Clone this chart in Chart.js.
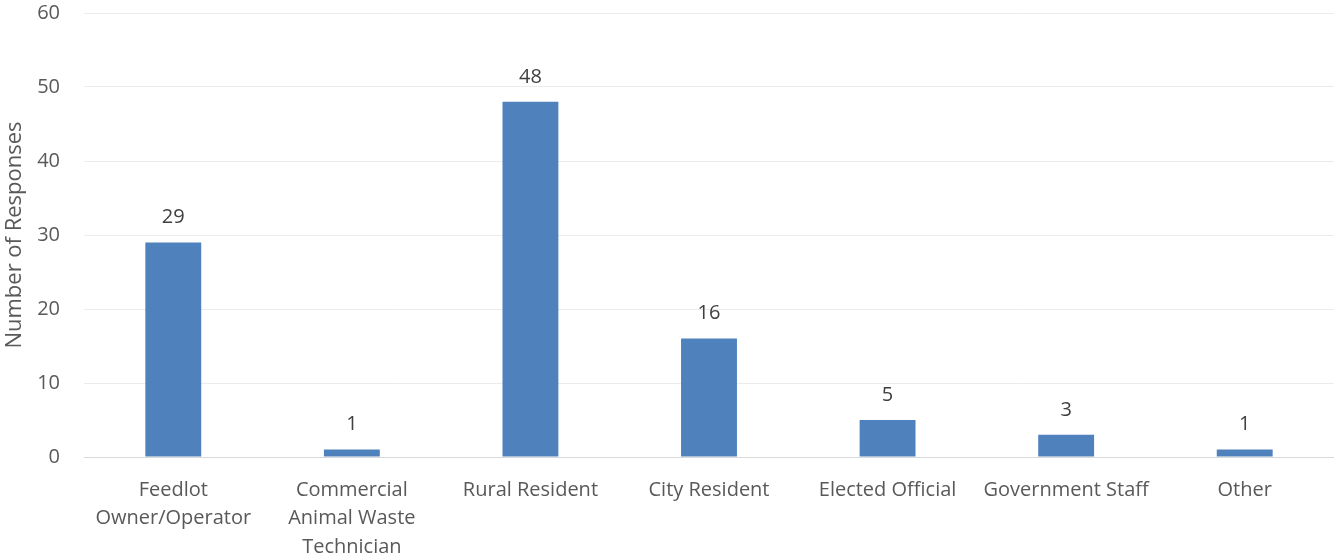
<!DOCTYPE html>
<html>
<head>
<meta charset="utf-8">
<script src="https://cdn.jsdelivr.net/npm/chart.js@4"></script>
<style>
  html, body { margin: 0; padding: 0; background: #fff; }
  #wrap { width: 1334px; height: 558px; }
</style>
</head>
<body>
<div id="wrap"><canvas id="canvas"></canvas></div>
<script>
const categories = [
    ['Feedlot', 'Owner/Operator'],
    ['Commercial', 'Animal Waste', 'Technician'],
    'Rural Resident',
    'City Resident',
    'Elected Official',
    'Government Staff',
    'Other'
];
const responses = [29, 1, 48, 16, 5, 3, 1];
const yTicks = [0, 10, 20, 30, 40, 50, 60];

const textColor = '#595959';
const fontFamily = '"Open Sans", sans-serif';

// draws the number above each bar
const valueLabels = {
    id: 'valueLabels',
    afterDatasetsDraw(chart) {
        const ctx = chart.ctx;
        const meta = chart.getDatasetMeta(0);
        ctx.save();
        ctx.fillStyle = '#404040';
        ctx.font = '20px ' + fontFamily;
        ctx.textAlign = 'center';
        ctx.textBaseline = 'middle';
        meta.data.forEach((bar, i) => {
            ctx.fillText(String(responses[i]), bar.x, bar.y - 25);
        });
        ctx.restore();
    }
};

const canvas = document.getElementById('canvas');
const chart = new Chart(canvas, {
    type: 'bar',
    data: {
        labels: categories,
        datasets: [{
            label: 'Number of Responses',
            data: responses,
            backgroundColor: '#4F81BD',
            barPercentage: 0.313,
            categoryPercentage: 1
        }]
    },
    options: {
        responsive: true,
        maintainAspectRatio: false,
        animation: false,
        layout: { padding: { top: 13, right: 0, bottom: 0, left: 0 } },
        plugins: {
            legend: { display: false },
            tooltip: { enabled: false }
        },
        scales: {
            x: {
                grid: { display: false, drawTicks: false },
                border: { color: '#D9D9D9', width: 1 },
                ticks: {
                    color: textColor,
                    font: { family: fontFamily, size: 20, lineHeight: 1.42 },
                    padding: 19,
                    maxRotation: 0,
                    autoSkip: false
                },
                afterFit: s => { s.height = 101; s.paddingTop = 0; }
            },
            y: {
                min: 0,
                max: 60,
                afterBuildTicks: s => { s.ticks = yTicks.map(v => ({ value: v })); },
                grid: { color: '#EBEBEB', drawTicks: false },
                border: { display: false },
                ticks: {
                    color: textColor,
                    font: { family: fontFamily, size: 20 },
                    padding: 24
                },
                title: {
                    display: true,
                    text: 'Number of Responses',
                    color: textColor,
                    font: { family: fontFamily, size: 22 },
                    padding: { top: 2, bottom: 0 }
                },
                afterFit: s => { s.width = 84; s.paddingTop = 0; s.paddingBottom = 0; }
            }
        }
    },
    plugins: [valueLabels]
});
</script>
</body>
</html>
